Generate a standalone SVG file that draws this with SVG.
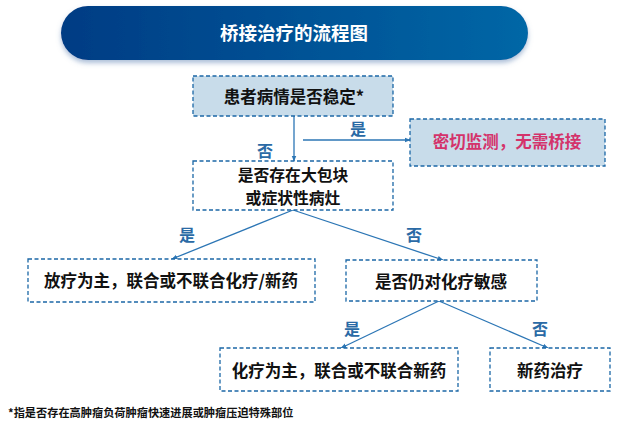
<svg xmlns="http://www.w3.org/2000/svg" width="617" height="424" viewBox="0 0 617 424">
<style>
.box{fill:#ffffff;stroke:#1b67a6;stroke-width:1.3;stroke-dasharray:4 2.5}
.boxf{fill:#c8dcea;stroke:#1b67a6;stroke-width:1.3;stroke-dasharray:4 2.5}
.t{font-family:"Noto Sans CJK SC","Liberation Sans",sans-serif;font-weight:bold;font-size:16.5px;fill:#111;text-anchor:middle;dominant-baseline:central}
.lbl{font-family:"Noto Sans CJK SC","Liberation Sans",sans-serif;font-weight:bold;font-size:16px;fill:#2a6aa5;text-anchor:middle;dominant-baseline:central}
.ln{stroke:#2c76b5;stroke-width:1.3;fill:none;marker-end:url(#ah)}
</style>
<defs>
<linearGradient id="g" x1="0" y1="0" x2="1" y2="0">
<stop offset="0" stop-color="#003c84"/>
<stop offset="1" stop-color="#0567a6"/>
</linearGradient>
<filter id="sh" x="-10%" y="-30%" width="120%" height="170%">
<feDropShadow dx="0" dy="3" stdDeviation="2.5" flood-color="#5a7fb0" flood-opacity="0.5"/>
</filter>
<marker id="ah" viewBox="0 0 10 10" refX="9" refY="5" markerWidth="6" markerHeight="6" orient="auto" markerUnits="userSpaceOnUse">
<path d="M0,1 L10,5 L0,9 z" fill="#2c76b5"/>
</marker>
</defs>
<g id="title">
<rect x="61" y="6" width="467" height="54" rx="27" fill="url(#g)" filter="url(#sh)"/>
<text x="294" y="32" class="t" style="fill:#fff;font-size:18.5px">桥接治疗的流程图</text>
</g>
<g id="connectors">
<line x1="294" y1="116" x2="294" y2="161" class="ln"/>
<line x1="303" y1="140" x2="410" y2="140" class="ln"/>
<line x1="293" y1="210" x2="172" y2="259" class="ln"/>
<line x1="293" y1="210" x2="443" y2="260" class="ln"/>
<line x1="439" y1="301" x2="341" y2="348" class="ln"/>
<line x1="439" y1="301" x2="548" y2="348" class="ln"/>
<text x="358" y="128" class="lbl">是</text>
<text x="265" y="150" class="lbl">否</text>
<text x="187" y="234" class="lbl">是</text>
<text x="414" y="234" class="lbl">否</text>
<text x="352" y="328" class="lbl">是</text>
<text x="540" y="328" class="lbl">否</text>
</g>
<g id="n1">
<rect x="193" y="76" width="200" height="40" class="boxf"/>
<text x="294" y="96" class="t">患者病情是否稳定*</text>
</g>
<g id="n2">
<rect x="410" y="119" width="195" height="47" class="boxf"/>
<text x="507" y="141" class="t" style="fill:#d4336b">密切监测，无需桥接</text>
</g>
<g id="n3">
<rect x="193" y="161" width="200" height="49" class="box"/>
<text class="t" style="font-size:15.8px"><tspan x="293" y="174">是否存在大包块</tspan><tspan x="293" y="197">或症状性病灶</tspan></text>
</g>
<g id="n4">
<rect x="28" y="259" width="287" height="43" class="box"/>
<text x="171" y="280" class="t">放疗为主，联合或不联合化疗/新药</text>
</g>
<g id="n5">
<rect x="346" y="260" width="191" height="41" class="box"/>
<text x="441" y="281" class="t">是否仍对化疗敏感</text>
</g>
<g id="n6">
<rect x="220" y="348" width="238" height="43" class="box"/>
<text x="339" y="370" class="t">化疗为主，联合或不联合新药</text>
</g>
<g id="n7">
<rect x="490" y="348" width="120" height="43" class="box"/>
<text x="550" y="370" class="t">新药治疗</text>
</g>
<text x="8" y="412" style="font-family:'Noto Sans CJK SC','Liberation Sans',sans-serif;font-weight:bold;font-size:11.2px;fill:#111;dominant-baseline:central">*指是否存在高肿瘤负荷肿瘤快速进展或肿瘤压迫特殊部位</text>
</svg>
